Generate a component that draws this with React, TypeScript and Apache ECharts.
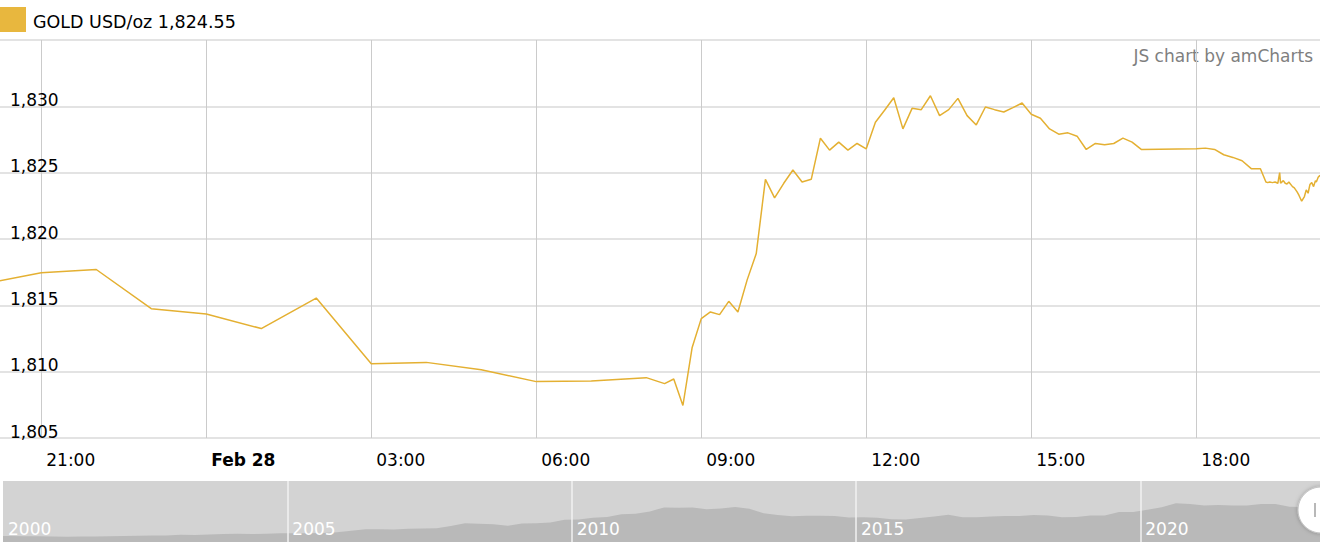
import React, { useEffect, useRef } from 'react';
import * as echarts from 'echarts';

// ---------- data ----------
const seriesName = 'GOLD USD/oz';
const latestPrice = 1824.55;
const watermarkText = 'JS chart by amCharts';

// hourly, Feb 27 evening -> Feb 28 morning ("day HH:MM")
const overnightTimes = ['27 20:00', '27 21:00', '27 22:00', '27 23:00', '28 00:00', '28 01:00', '28 02:00', '28 03:00', '28 04:00', '28 05:00', '28 06:00', '28 07:00', '28 08:00'];
const overnightPrices = [1816.65, 1817.45, 1817.7, 1814.75, 1814.35, 1813.25, 1815.55, 1810.6, 1810.7, 1810.15, 1809.25, 1809.3, 1809.55];

// 10-minute bars, Feb 28 morning
const morningTimes = ['28 08:20', '28 08:30', '28 08:40', '28 08:50', '28 09:00', '28 09:10', '28 09:20', '28 09:30', '28 09:40', '28 09:50', '28 10:00', '28 10:10', '28 10:20', '28 10:30', '28 10:40', '28 10:50', '28 11:00', '28 11:10', '28 11:20', '28 11:30', '28 11:40', '28 11:50', '28 12:00'];
const morningPrices = [1809.1, 1809.45, 1807.45, 1811.8, 1814.0, 1814.5, 1814.3, 1815.3, 1814.5, 1816.9, 1818.9, 1824.5, 1823.1, 1824.2, 1825.2, 1824.3, 1824.5, 1827.6, 1826.7, 1827.3, 1826.7, 1827.2, 1826.8];

// 10-minute bars, Feb 28 afternoon
const afternoonTimes = ['28 12:10', '28 12:20', '28 12:30', '28 12:40', '28 12:50', '28 13:00', '28 13:10', '28 13:20', '28 13:30', '28 13:40', '28 13:50', '28 14:00', '28 14:10', '28 14:20', '28 14:30', '28 14:40', '28 14:50', '28 15:00', '28 15:10', '28 15:20', '28 15:30', '28 15:40', '28 15:50', '28 16:00', '28 16:10', '28 16:20', '28 16:30', '28 16:40', '28 16:50', '28 17:00'];
const afternoonPrices = [1828.8, 1829.7, 1830.65, 1828.3, 1829.85, 1829.75, 1830.8, 1829.3, 1829.75, 1830.6, 1829.3, 1828.6, 1829.95, 1829.75, 1829.57, 1829.9, 1830.25, 1829.4, 1829.1, 1828.3, 1827.9, 1828.0, 1827.75, 1826.75, 1827.2, 1827.1, 1827.2, 1827.6, 1827.3, 1826.75];

// 10-minute bars, Feb 28 evening
const eveningTimes = ['28 18:00', '28 18:10', '28 18:20', '28 18:30', '28 18:40', '28 18:50', '28 19:00', '28 19:10'];
const eveningPrices = [1826.8, 1826.85, 1826.75, 1826.35, 1826.15, 1825.9, 1825.3, 1825.3];

// minute ticks at the end of the session
const tailTimes = ['28 19:16', '28 19:18', '28 19:20', '28 19:23', '28 19:26', '28 19:29', '28 19:31', '28 19:32', '28 19:35', '28 19:37', '28 19:39', '28 19:41', '28 19:45', '28 19:47', '28 19:50', '28 19:52', '28 19:55', '28 19:58', '28 20:00', '28 20:02', '28 20:04', '28 20:06', '28 20:08', '28 20:10', '28 20:11', '28 20:13', '28 20:15'];
const tailPrices = [1824.3, 1824.25, 1824.3, 1824.25, 1824.3, 1824.2, 1825.0, 1824.2, 1824.4, 1824.2, 1824.15, 1824.3, 1823.95, 1823.85, 1823.55, 1823.3, 1822.85, 1823.2, 1823.7, 1823.45, 1824.1, 1824.25, 1823.95, 1824.4, 1824.3, 1824.65, 1824.8];

// x-axis ticks (hours since Feb 27 00:00)
const xTickHours = [21, 24, 27, 30, 33, 36, 39, 42];
const xTickLabels = ['21:00', 'Feb 28', '03:00', '06:00', '09:00', '12:00', '15:00', '18:00'];
const xMinHour = 20.25;
const xMaxHour = 44.25;

// y-axis
const yMin = 1805;
const yMax = 1835;
const yStep = 5;

// navigator (long-term history)
const navYearTicks = [2000, 2005, 2010, 2015, 2020];
const navStartYear = 2000;
const navQuarterlyPrices = [
  290, 280, 277, 270,
  263, 265, 275, 278,
  293, 312, 314, 323,
  352, 347, 364, 392,
  408, 393, 401, 434,
  427, 427, 440, 485,
  554, 628, 622, 614,
  650, 667, 680, 790,
  925, 896, 872, 795,
  908, 922, 960, 1100,
  1109, 1197, 1227, 1367,
  1386, 1506, 1702, 1688,
  1691, 1609, 1652, 1722,
  1632, 1415, 1326, 1272,
  1293, 1288, 1282, 1201,
  1219, 1192, 1124, 1105,
  1183, 1260, 1335, 1222,
  1219, 1257, 1278, 1276,
  1329, 1306, 1213, 1226,
  1304, 1309, 1472, 1481,
  1583, 1711, 1909, 1874,
  1794, 1816, 1790, 1795,
  1874, 1871, 1729, 1726,
];
const navRecentDates = [2023.04, 2023.16];
const navRecentPrices = [1900, 1825];
const navMax = 3000;

// ---------- helpers ----------
const FONT = '"DejaVu Sans", Verdana, sans-serif';
const GOLD = '#E4B032';

function toHours(t: string): number {
  const [d, hm] = t.split(' ');
  const [h, m] = hm.split(':').map(Number);
  return (Number(d) - 27) * 24 + h + m / 60;
}

function zipSeries(times: string[], prices: number[]): [number, number][] {
  return times.map((t, i) => [toHours(t), prices[i]]);
}

const mainData = [
  ...zipSeries(overnightTimes, overnightPrices),
  ...zipSeries(morningTimes, morningPrices),
  ...zipSeries(afternoonTimes, afternoonPrices),
  ...zipSeries(eveningTimes, eveningPrices),
  ...zipSeries(tailTimes, tailPrices),
];

const navData: [number, number][] = [
  [navStartYear, navQuarterlyPrices[0]],
  ...navQuarterlyPrices.map((p, i) => [navStartYear + (i + 0.5) / 4, p] as [number, number]),
  ...navRecentDates.map((d, i) => [d, navRecentPrices[i]] as [number, number]),
];

const legendText = `${seriesName} ${latestPrice.toLocaleString('en-US', { minimumFractionDigits: 2 })}`;

export default function App() {
  const ref = useRef<HTMLDivElement>(null);
  useEffect(() => {
    document.body.style.margin = '0';
    const chart = echarts.init(ref.current!, null, { renderer: 'svg' });
    chart.setOption({
      animation: false,
      textStyle: { fontFamily: FONT },
      grid: [
        { left: 0, right: 0, top: 40, height: 398, containLabel: false },
        { left: 0, right: 0, top: 481, height: 61, show: true, backgroundColor: '#d3d3d3', borderWidth: 0 },
      ],
      xAxis: [
        {
          type: 'value',
          gridIndex: 0,
          min: xMinHour,
          max: xMaxHour,
          axisLine: { show: false },
          axisTick: { show: false, customValues: xTickHours },
          axisLabel: {
            customValues: xTickHours,
            align: 'left',
            padding: [0, 0, 0, 5],
            margin: 13,
            fontSize: 17,
            lineHeight: 17,
            color: '#000',
            fontFamily: FONT,
            formatter: (v: number) => {
              const i = xTickHours.indexOf(Math.round(v));
              if (i < 0) return '';
              const s = xTickLabels[i];
              return xTickHours[i] % 24 === 0 ? `{b|${s}}` : s;
            },
            rich: {
              b: { fontWeight: 'bold', fontSize: 17, lineHeight: 17, color: '#000', fontFamily: FONT },
            },
          },
          splitLine: { show: true, lineStyle: { color: '#cbcbcb', width: 1 } },
        },
        {
          type: 'value',
          gridIndex: 1,
          min: navStartYear,
          max: navRecentDates[navRecentDates.length - 1],
          z: 5,
          axisLine: { show: false },
          axisTick: { show: false, customValues: navYearTicks.slice(1) },
          axisLabel: {
            inside: true,
            customValues: navYearTicks,
            align: 'left',
            padding: [0, 0, 0, 5],
            margin: 5,
            fontSize: 17,
            lineHeight: 17,
            color: '#ffffff',
            fontFamily: FONT,
            formatter: (v: number) => String(Math.round(v)),
          },
          splitLine: { show: true, lineStyle: { color: '#f2f2f2', width: 1.5 } },
        },
      ],
      yAxis: [
        {
          type: 'value',
          gridIndex: 0,
          min: yMin,
          max: yMax,
          interval: yStep,
          axisLine: { show: false },
          axisTick: { show: false },
          axisLabel: {
            inside: true,
            margin: 10,
            verticalAlign: 'bottom',
            lineHeight: 13,
            fontSize: 17,
            color: '#000',
            fontFamily: FONT,
            formatter: (v: number) => (v >= yMax ? '' : v.toLocaleString('en-US')),
          },
          splitLine: { show: true, lineStyle: { color: '#dadada', width: 1.5 } },
        },
        {
          type: 'value',
          gridIndex: 1,
          min: 0,
          max: navMax,
          show: false,
          splitLine: { show: false },
        },
      ],
      series: [
        {
          name: seriesName,
          type: 'line',
          xAxisIndex: 0,
          yAxisIndex: 0,
          data: mainData,
          showSymbol: false,
          symbol: 'none',
          clip: true,
          lineStyle: { color: GOLD, width: 1.5 },
          itemStyle: { color: GOLD },
          silent: true,
        },
        {
          name: 'history',
          type: 'line',
          xAxisIndex: 1,
          yAxisIndex: 1,
          data: navData,
          showSymbol: false,
          symbol: 'none',
          z: 1,
          lineStyle: { width: 0, color: '#b9b9b9' },
          areaStyle: { color: '#b9b9b9', opacity: 1 },
          silent: true,
        },
      ],
      graphic: [
        { type: 'rect', left: 0, top: 7, shape: { width: 26, height: 25 }, style: { fill: '#E8B73E' } },
        { type: 'text', left: 33, top: 13, style: { text: legendText, font: `17.5px ${FONT}`, fill: '#000' } },
        { type: 'text', right: 7, top: 47, style: { text: watermarkText, font: `17px ${FONT}`, fill: '#7f7f7f' } },
        {
          type: 'circle',
          z: 100,
          shape: { cx: 1321, cy: 510, r: 23 },
          style: { fill: '#ffffff', stroke: '#c4c4c4', lineWidth: 1, shadowBlur: 4, shadowColor: 'rgba(0,0,0,0.25)' },
        },
        {
          type: 'line',
          z: 101,
          shape: { x1: 1315, y1: 503, x2: 1315, y2: 517 },
          style: { stroke: '#a0a0a0', lineWidth: 1.5 },
        },
      ],
    });
    return () => chart.dispose();
  }, []);
  return <div ref={ref} style={{ width: 1320, height: 552 }} />;
}
